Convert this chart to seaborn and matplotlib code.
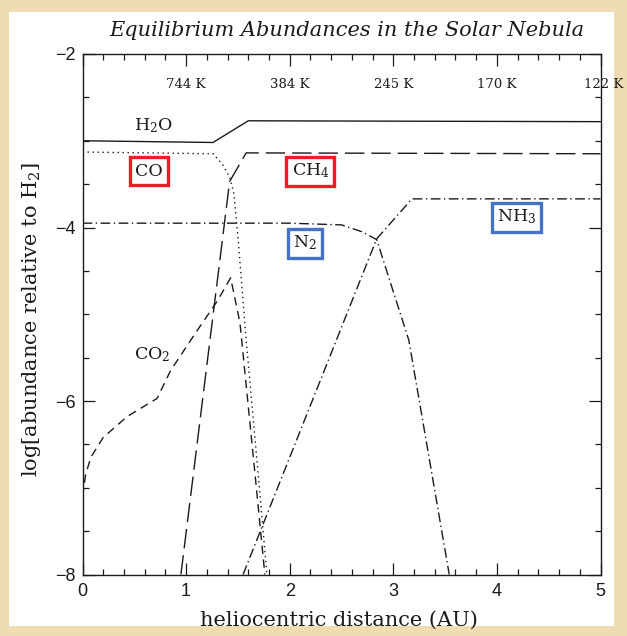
import numpy as np
import pandas as pd
import matplotlib
matplotlib.use("Agg")
import matplotlib.pyplot as plt
import seaborn as sns
from matplotlib.patches import Rectangle
from matplotlib.ticker import MultipleLocator, FixedLocator

# ---- data ----
h2o_x = [0.0, 1.26, 1.60, 5.0]
h2o_y = [-3.0, -3.02, -2.77, -2.78]

co_x = [0.0, 1.26, 1.35, 1.42, 1.46, 1.50, 1.58, 1.70, 1.78]
co_y = [-3.13, -3.15, -3.27, -3.42, -3.60, -4.10, -5.30, -6.90, -8.0]

ch4_x = [0.95, 1.42, 1.58, 5.0]
ch4_y = [-8.0, -3.47, -3.14, -3.15]

co2_x = [0.0, 0.03, 0.08, 0.20, 0.43, 0.72, 0.85, 1.10, 1.30, 1.43, 1.52, 1.67, 1.76]
co2_y = [-7.1, -6.85, -6.65, -6.42, -6.18, -5.97, -5.65, -5.2, -4.85, -4.58, -5.1, -6.9, -8.0]

n2_x = [0.0, 2.0, 2.5, 2.7, 2.84, 3.15, 3.54]
n2_y = [-3.95, -3.95, -3.97, -4.05, -4.14, -5.3, -8.0]

nh3_x = [1.55, 2.84, 3.18, 5.0]
nh3_y = [-8.0, -4.13, -3.67, -3.67]

temp_pos = [1, 2, 3, 4, 5.03]
temp_labels = ["744 K", "384 K", "245 K", "170 K", "122 K"]

x_ticks = [0, 1, 2, 3, 4, 5]
y_ticks = [-8, -6, -4, -2]

# ---- style ----
sns.set_theme(style="ticks")
plt.rcParams["font.family"] = ["DejaVu Serif", "DejaVu Sans"]
plt.rcParams["mathtext.fontset"] = "dejavuserif"

W, H = 627, 636
fig = plt.figure(figsize=(W / 100, H / 100), dpi=100)
fig.patch.set_facecolor("#efdcb2")
fig.add_artist(Rectangle((9 / W, 1 - 626 / H), (614 - 9) / W, (626 - 12) / H,
                         transform=fig.transFigure, facecolor="white",
                         edgecolor="none", zorder=0))

ax = fig.add_axes([82.5 / W, 1 - 574.5 / H, 518 / W, 520.5 / H])
ax.set_facecolor("white")

ink = "#1a1a1a"
lw = 1.0
series = [
    (h2o_x, h2o_y, "-"),
    (co_x, co_y, (0, (1, 2.6))),
    (ch4_x, ch4_y, (0, (14, 5))),
    (co2_x, co2_y, (0, (6, 4))),
    (n2_x, n2_y, (0, (7, 2.5, 1, 2.5))),
    (nh3_x, nh3_y, (0, (7, 2.5, 1, 2.5))),
]
for xs, ys, ls in series:
    df = pd.DataFrame({"x": xs, "y": ys})
    sns.lineplot(data=df, x="x", y="y", sort=False, estimator=None, ax=ax,
                 color=ink, lw=lw, linestyle=ls)

ax.set_xlim(0, 5)
ax.set_ylim(-8, -2)

ax.xaxis.set_major_locator(FixedLocator(x_ticks))
ax.xaxis.set_minor_locator(MultipleLocator(0.2))
ax.yaxis.set_major_locator(FixedLocator(y_ticks))
ax.yaxis.set_minor_locator(MultipleLocator(0.5))
ax.tick_params(which="both", direction="in", top=True, right=True,
               color=ink, width=0.9)
ax.tick_params(which="major", length=8.5)
ax.tick_params(which="minor", length=4)
ax.tick_params(axis="x", which="major", pad=6)
ax.tick_params(axis="y", which="major", pad=5)
for lab in ax.get_xticklabels() + ax.get_yticklabels():
    lab.set_fontfamily("Liberation Sans")
    lab.set_fontsize(13)
    lab.set_color(ink)
for sp in ax.spines.values():
    sp.set_color(ink)
    sp.set_linewidth(1.0)

# temperature labels along top
for p, t in zip(temp_pos, temp_labels):
    ax.text(p, -2.357, t, ha="center", va="center", fontsize=9.5, color=ink)

# species labels
ax.text(0.68, -2.83, "H$_2$O", ha="center", va="center", fontsize=12.5, color=ink)
ax.text(0.67, -5.47, "CO$_2$", ha="center", va="center", fontsize=12.5, color=ink)
boxed = [
    (0.64, -3.35, "CO", "#ee1c25"),
    (2.20, -3.35, "CH$_4$", "#ee1c25"),
    (2.15, -4.18, "N$_2$", "#4472c4"),
    (4.19, -3.88, "NH$_3$", "#4472c4"),
]
for x, y, t, c in boxed:
    ax.text(x, y, t, ha="center", va="center", fontsize=12.5, color=ink,
            bbox=dict(boxstyle="square,pad=0.3", facecolor="white",
                      edgecolor=c, linewidth=2.4))

ax.set_xlabel("heliocentric distance (AU)", fontsize=15, color=ink, va="center")
ax.xaxis.set_label_coords(0.495, (574.5 - 620) / 520.5)
ax.set_ylabel("log[abundance relative to H$_2$]", fontsize=15, color=ink, va="center")
ax.yaxis.set_label_coords((32 - 82.5) / 518, (574.5 - 320) / 520.5)

fig.text(347 / W, 1 - 30 / H, "Equilibrium Abundances in the Solar Nebula",
         ha="center", va="center", fontsize=15, style="italic", color=ink)

fig.savefig("out.png", dpi=100, facecolor=fig.get_facecolor())
